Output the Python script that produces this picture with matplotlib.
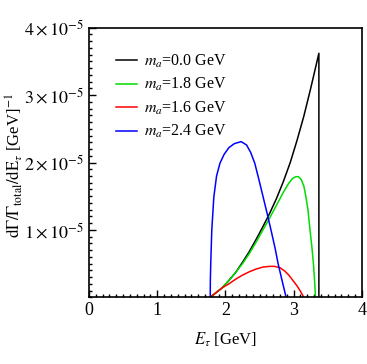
import matplotlib
matplotlib.use('Agg')
import matplotlib.pyplot as plt
from matplotlib.ticker import MultipleLocator, FuncFormatter

plt.rcParams['font.family'] = ['Liberation Serif', 'DejaVu Serif']
plt.rcParams['mathtext.fontset'] = 'stix'

# curves (y in units of 1e-5)
e_black = [1.777, 1.85, 1.95, 2.05, 2.15, 2.25, 2.35, 2.45, 2.55, 2.65, 2.75, 2.85,
           2.95, 3.05, 3.15, 3.25, 3.37, 3.37]
y_black = [0.0, 0.06, 0.14, 0.25, 0.37, 0.52, 0.68, 0.86, 1.05, 1.25, 1.47, 1.72,
           2.0, 2.33, 2.69, 3.1, 3.62, 0.0]

e_green = [1.777, 1.85, 1.95, 2.05, 2.15, 2.25, 2.35, 2.45, 2.55, 2.65, 2.75, 2.85,
           2.92, 2.98, 3.03, 3.07, 3.11, 3.15, 3.18, 3.21, 3.24, 3.27, 3.29, 3.305, 3.315, 3.32]
y_green = [0.0, 0.06, 0.14, 0.25, 0.37, 0.5, 0.65, 0.82, 1.0, 1.18, 1.37, 1.56,
           1.68, 1.76, 1.79, 1.79, 1.75, 1.65, 1.49, 1.3, 1.0, 0.72, 0.5, 0.28, 0.1, 0.0]

e_red = [1.777, 1.85, 1.95, 2.05, 2.15, 2.25, 2.35, 2.45, 2.55, 2.65, 2.72, 2.8,
         2.87, 2.93, 2.99, 3.05, 3.1, 3.15]
y_red = [0.0, 0.06, 0.14, 0.2, 0.27, 0.33, 0.38, 0.42, 0.45, 0.46, 0.46, 0.44,
         0.39, 0.33, 0.25, 0.17, 0.09, 0.0]

e_blue = [1.777, 1.779, 1.785, 1.80, 1.83, 1.87, 1.92, 1.98, 2.05, 2.13, 2.23, 2.31,
          2.37, 2.43, 2.49, 2.55, 2.61, 2.67, 2.73, 2.77, 2.83, 2.89]
y_blue = [0.0, 0.25, 0.51, 1.0, 1.49, 1.8, 1.99, 2.12, 2.22, 2.28, 2.31, 2.26,
          2.15, 1.99, 1.75, 1.5, 1.25, 0.99, 0.72, 0.51, 0.25, 0.0]

labels = ['0.0', '1.8', '1.6', '2.4']

fig = plt.figure(figsize=(3.67, 3.64), dpi=100)
ax = fig.add_axes([0.2425, 0.183, 0.7435, 0.741])

series = [(e_black, y_black, 'black'), (e_green, y_green, '#00dd00'),
          (e_red, y_red, '#ff0000'), (e_blue, y_blue, '#0000ff')]
for (e, y, c), lab in zip(series, labels):
    ax.plot(e, [v * 1e-5 for v in y], color=c, lw=1.1, label=r'$m_a$=' + lab + ' GeV')

ax.set_xlim(0, 4)
ax.set_ylim(0, 4e-5)
ax.set_xticks([0, 1, 2, 3, 4])
ax.xaxis.set_minor_locator(MultipleLocator(0.1))
ax.set_yticks([1e-5, 2e-5, 3e-5, 4e-5])
ax.yaxis.set_minor_locator(MultipleLocator(1e-6))
ax.yaxis.set_major_formatter(FuncFormatter(lambda v, p: r'$%d\times10^{-5}$' % round(v * 1e5)))

ax.tick_params(which='both', direction='in', top=False, right=False, labelsize=13, width=1.0)
ax.tick_params(which='major', length=5)
ax.tick_params(which='minor', length=2.5)
for s in ax.spines.values():
    s.set_linewidth(1.2)

ax.set_xlabel(r'$E_\tau$ [GeV]', fontsize=12, labelpad=8)
ax.set_ylabel(r'$\mathrm{d}\Gamma/\Gamma_{\rm total}/\mathrm{dE}_\tau$ [GeV]$^{-1}$', fontsize=12)
ax.yaxis.set_label_coords(-0.235, 0.49)

ax.legend(loc='upper left', frameon=False, fontsize=11.5, handlelength=1.3,
          handletextpad=0.4, labelspacing=0.4, bbox_to_anchor=(0.048, 0.96))

fig.savefig('out.png', dpi=100)
